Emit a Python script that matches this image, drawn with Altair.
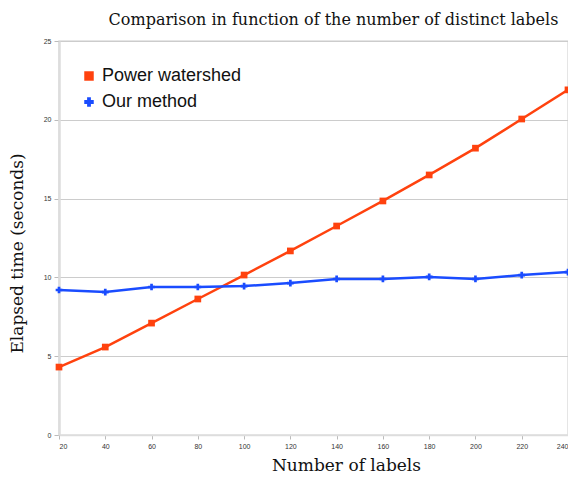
import altair as alt
import pandas as pd

labels = [20, 40, 60, 80, 100, 120, 140, 160, 180, 200, 220, 240]
power_watershed = [4.31, 5.58, 7.1, 8.63, 10.15, 11.68, 13.26, 14.85, 16.5, 18.2, 20.05, 21.9]
our_method = [9.2, 9.07, 9.39, 9.39, 9.45, 9.64, 9.9, 9.9, 10.03, 9.9, 10.15, 10.34]
series_names = ["Power watershed", "Our method"]
colors = ["#ff420e", "#1a4cff"]

rows = []
for x, p, o in zip(labels, power_watershed, our_method):
    rows.append({"labels": x, "time": p, "series": series_names[0]})
    rows.append({"labels": x, "time": o, "series": series_names[1]})
df = pd.DataFrame(rows)

W, H = 509, 394
serif = "DejaVu Serif"

xenc = alt.X("labels:Q", scale=alt.Scale(domain=[20, 240], nice=False, zero=False),
             axis=alt.Axis(title="Number of labels", values=labels, grid=False,
                           labelFontSize=7, labelFont="Liberation Sans", labelColor="#333",
                           tickColor="#bbb", tickSize=4, domainColor="#ddd", domainWidth=1.5,
                           titleFont=serif, titleFontSize=17, titleFontWeight="normal",
                           titleColor="#111", titlePadding=8, labelPadding=3,
                           titleX=287))
yenc = alt.Y("time:Q", scale=alt.Scale(domain=[0, 25], nice=False),
             axis=alt.Axis(title="Elapsed time (seconds)", values=[0, 5, 10, 15, 20, 25],
                           grid=True, gridColor="#cccccc", labelFontSize=7,
                           labelFont="Liberation Sans", labelColor="#333",
                           tickColor="#bbb", tickSize=5, domainColor="#ddd", domainWidth=2.5,
                           titleFont=serif, titleFontSize=17, titleFontWeight="normal",
                           titleColor="#111", titlePadding=17, labelPadding=3,
                           titleY=H / 2 + 15))
leg = alt.Legend(title=None, orient="none", legendX=21, legendY=26,
                 labelFont="Liberation Sans", labelFontSize=18,
                 labelColor="#111", symbolSize=90, symbolStrokeWidth=0,
                 rowPadding=8, labelOffset=4)
color = alt.Color("series:N", scale=alt.Scale(domain=series_names, range=colors), legend=leg)
shape = alt.Shape("series:N", scale=alt.Scale(domain=series_names, range=["square", "cross"]), legend=leg)

base = alt.Chart(df)
lines = base.mark_line(strokeWidth=2.5).encode(x=xenc, y=yenc, color=color, detail="series:N")
points = base.mark_point(filled=True, opacity=1, size=45).encode(x=xenc, y=yenc, color=color, shape=shape)

chart = (lines + points).properties(
    width=W, height=H,
    title=alt.Title("Comparison in function of the number of distinct labels",
                    font=serif, fontSize=16, fontWeight="normal",
                    anchor="middle", dx=20, offset=9, color="#111"),
    autosize=alt.AutoSizeParams(type="none"),
    padding={"left": 51, "top": 33, "right": 0, "bottom": 39},
).configure_view(stroke="#dddddd", strokeWidth=1.5)

chart.save("out.html", embed_options={"renderer": "svg", "actions": False})
